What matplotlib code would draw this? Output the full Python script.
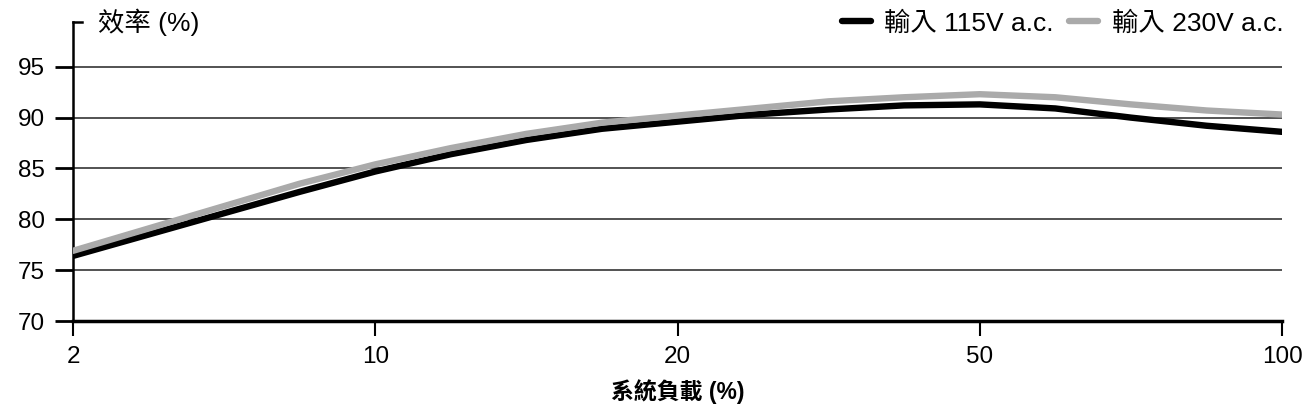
import numpy as np
import matplotlib
matplotlib.use("Agg")
import matplotlib.pyplot as plt

plt.rcParams['font.family'] = ['Liberation Sans', 'Noto Sans CJK TC']

# load ticks (equally spaced on the axis)
load_ticks = [2, 10, 20, 50, 100]

# load points (%)
load = [2, 4, 6, 8, 10, 12.5, 15, 17.5, 20, 27.5, 35, 42.5, 50, 62.5, 75, 87.5, 100]
eff_115 = [76.4, 78.5, 80.6, 82.7, 84.7, 86.4, 87.8, 88.9, 89.6, 90.3, 90.8, 91.2,
           91.3, 90.9, 90.0, 89.2, 88.6]
eff_230 = [76.9, 79.1, 81.3, 83.5, 85.4, 87.0, 88.4, 89.5, 90.2, 90.9, 91.6, 92.0,
           92.3, 92.0, 91.3, 90.7, 90.3]

y_ticks = [70, 75, 80, 85, 90, 95]

idx = np.arange(len(load_ticks))


def fwd(v):
    return np.interp(v, load_ticks, idx)


def inv(v):
    return np.interp(v, idx, load_ticks)


fig = plt.figure(figsize=(13.04, 4.12), dpi=100)
W, H = 1304, 412
ax = fig.add_axes([73 / W, (H - 321) / H, (1282 - 73) / W, (321 - 22) / H])

ax.set_xscale('function', functions=(fwd, inv))
ax.set_xlim(2, 100)
ax.set_ylim(70, 99.4)

ax.plot(load, eff_115, color='black', lw=4.6, solid_capstyle='round', label='輸入 115V a.c.', zorder=3)
ax.plot(load, eff_230, color='#aaaaaa', lw=4.6, solid_capstyle='round', label='輸入 230V a.c.', zorder=4)

ax.set_xticks(load_ticks)
ax.set_xticklabels([str(t) for t in load_ticks])
ax.set_yticks(y_ticks)
ax.set_yticklabels([str(t) for t in y_ticks])
ax.tick_params(axis='x', length=11, width=1.5, pad=7, labelsize=17.5, direction='out')
ax.tick_params(axis='y', length=13, width=2.0, pad=7, labelsize=17.5, direction='out')

for t in y_ticks[1:]:
    ax.axhline(t, color='#444444', lw=1.3, zorder=1)

for s in ['top', 'right']:
    ax.spines[s].set_visible(False)
ax.spines['bottom'].set_linewidth(2.5)
ax.spines['left'].set_linewidth(1.8)

# small tick at top of y axis + label
ax.plot([0, 0.0075], [1, 1], transform=ax.transAxes, color='black', lw=1.8, clip_on=False)
ax.text(0.0205, 1.0, '效率 (%)', transform=ax.transAxes, fontsize=19, va='center', ha='left')

ax.set_xlabel('系統負載 (%)', fontsize=16.5, fontweight='bold', labelpad=8)

ax.legend(loc='center right', bbox_to_anchor=(1.001, 0.995), ncol=2, frameon=False,
          fontsize=19, handlelength=1.1, handletextpad=0.5, columnspacing=0.6,
          borderaxespad=0, borderpad=0)

fig.savefig('out.png', dpi=100)
